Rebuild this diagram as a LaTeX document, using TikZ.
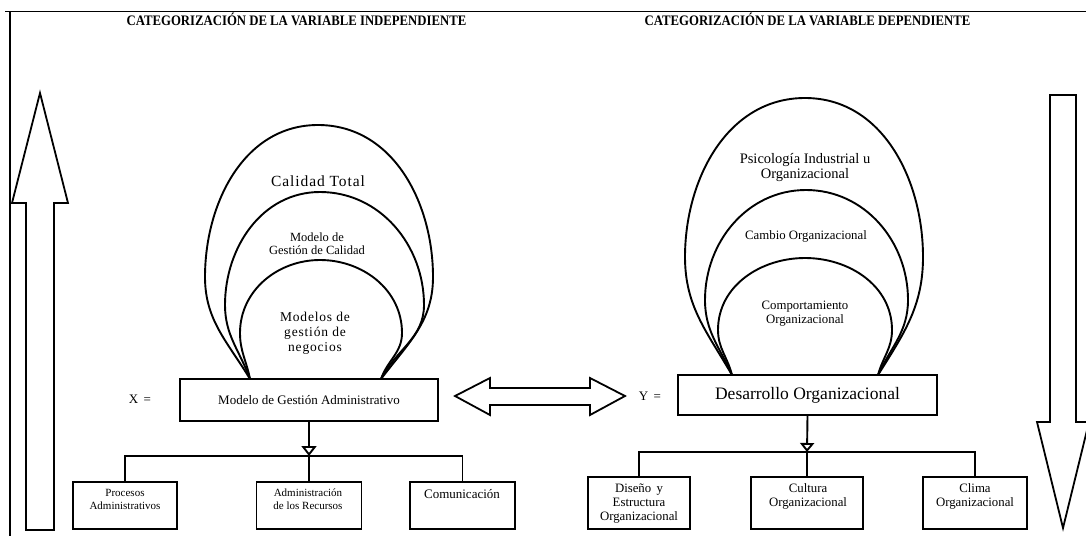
\documentclass[tikz,border=0pt]{standalone}
\usepackage{fontspec}
\setmainfont{Liberation Serif}
\newfontfamily\spacedfont[LetterSpace=6]{Liberation Serif}
\newfontfamily\titlefont[FakeStretch=0.88]{Liberation Serif}
\usetikzlibrary{arrows.meta,positioning}

\tikzset{
  frm/.style={line width=1.4pt},
  loopline/.style={line width=1.9pt},
  blockarrow/.style={line width=1.8pt, line join=miter},
  mainbox/.style={draw, line width=1.9pt, inner sep=0pt, align=center},
  leafbox/.style={draw, line width=1.9pt, inner sep=0pt},
  tree/.style={line width=1.9pt},
  titletxt/.style={font=\titlefont\fontsize{14.5}{16}\selectfont\bfseries, inner sep=0pt},
  txt/.style={align=center, inner sep=0pt},
}

\begin{document}
\begin{tikzpicture}[x=1pt,y=-1pt]
  \useasboundingbox (0,0) rectangle (1086,536);
  % marco
  \draw[frm] (5,11.5) -- (1086,11.5);
  \draw[frm] (10,11.5) -- (10,536);
  % titulos
  \node[titletxt] (titx) at (296.5,19) {CATEGORIZACIÓN DE LA VARIABLE INDEPENDIENTE};
  \node[titletxt] (tity) at (807.5,19) {CATEGORIZACIÓN DE LA VARIABLE DEPENDIENTE};

  % flechas laterales
  \draw[blockarrow] (26,530) -- (26,203) -- (12,203) -- (40,93) -- (68,203) -- (54,203) -- (54,530) -- cycle;
  \draw[blockarrow] (1050,95) -- (1076,95) -- (1076,422) -- (1089,422) -- (1063,528) -- (1037,422) -- (1050,422) -- cycle;

  % variable independiente
  \node[mainbox, minimum width=258, minimum height=42, font=\fontsize{13}{15}\selectfont] (mga) at (309,400) {Modelo de Gestión Administrativo};
  \node[txt, font=\fontsize{13}{15}\selectfont] (xeq) at (140,399) {X\, =};
  \coordinate (xl) at (250,379);
  \coordinate (xr) at (381,379);
  \draw[loopline] (xl) to[out=121,in=-90] (205,277) to[out=90,in=180] (318,125) to[out=0,in=90] (433,277) to[out=-90,in=53] (xr);
  \draw[loopline] (xl) to[out=110,in=-90] (225,305) to[out=90,in=180] (320,192) to[out=0,in=90] (424,305) to[out=-90,in=63] (xr);
  \draw[loopline] (xl) to[out=101,in=-90] (240,333) to[out=90,in=180] (320,260) to[out=0,in=90] (402,333) to[out=-90,in=71] (xr);
  \node[txt, font=\spacedfont\fontsize{15.5}{17}\selectfont] (ct) at (318,181) {Calidad Total};
  \node[txt, font=\fontsize{12.5}{13}\selectfont] (mgc) at (317,243.5) {Modelo de\\Gestión de Calidad};
  \node[txt, font=\spacedfont\fontsize{13.5}{15}\selectfont] (mgn) at (315,333) {Modelos de\\gestión de\\negocios};

  % dimensiones X
  \node[leafbox, minimum width=104, minimum height=47] (p1) at (125,505.5) {};
  \node[leafbox, minimum width=105, minimum height=47] (p2) at (309,505.5) {};
  \node[leafbox, minimum width=105, minimum height=47] (p3) at (462.5,505.5) {};
  \node[txt, font=\fontsize{11}{13}\selectfont] (p1t) at (125,499.5) {Procesos\\Administrativos};
  \node[txt, font=\fontsize{11}{13}\selectfont] (p2t) at (308,499.5) {Administración\\de los Recursos};
  \node[txt, font=\fontsize{13}{15}\selectfont] (p3t) at (462,494) {Comunicación};
  \coordinate (jx) at (309,456);
  \draw[tree, -{Triangle[open, length=10pt, width=15pt]}] (mga.south) -- (jx);
  \draw[tree] (p1.north) |- (jx) -| (p3.north);
  \draw[tree] (jx) -- (p2.north);

  % flecha doble
  \draw[blockarrow] (455,396) -- (490,378) -- (490,388) -- (590,388) -- (590,378) -- (625,396) -- (590,415) -- (590,405) -- (490,405) -- (490,415) -- cycle;

  % variable dependiente
  \node[mainbox, minimum width=259, minimum height=40, font=\fontsize{17.5}{19}\selectfont] (do) at (807.5,395) {Desarrollo Organizacional};
  \node[txt, font=\fontsize{13}{15}\selectfont] (yeq) at (650,396) {Y\, =};
  \coordinate (yl) at (732,375);
  \coordinate (yr) at (878,375);
  \draw[loopline] (yl) to[out=120,in=-90] (685,257) to[out=90,in=180] (805,98) to[out=0,in=90] (923,257) to[out=-90,in=58] (yr);
  \draw[loopline] (yl) to[out=114,in=-90] (705,300) to[out=90,in=180] (806,190) to[out=0,in=90] (908,300) to[out=-90,in=65] (yr);
  \draw[loopline] (yl) to[out=104,in=-90] (718,330) to[out=90,in=180] (805,258) to[out=0,in=90] (892,330) to[out=-90,in=75] (yr);
  \node[txt, font=\fontsize{14.5}{15.5}\selectfont] (psi) at (805,167.5) {Psicología Industrial u\\Organizacional};
  \node[txt, font=\fontsize{12.8}{14}\selectfont] (cam) at (806,236) {Cambio Organizacional};
  \node[txt, font=\fontsize{12.8}{13.5}\selectfont] (com) at (805,313.5) {Comportamiento\\Organizacional};

  % dimensiones Y
  \node[leafbox, minimum width=102, minimum height=52] (q1) at (639,503) {};
  \node[leafbox, minimum width=112, minimum height=52] (q2) at (807,503) {};
  \node[leafbox, minimum width=104, minimum height=52] (q3) at (975,503) {};
  \node[txt, font=\fontsize{12.8}{14}\selectfont] (q1t) at (639,504) {Diseño\, y\\Estructura\\Organizacional};
  \node[txt, font=\fontsize{12.8}{14}\selectfont] (q2t) at (808,496) {Cultura\\Organizacional};
  \node[txt, font=\fontsize{12.8}{14}\selectfont] (q3t) at (975,496) {Clima\\Organizacional};
  \coordinate (jy) at (807,452);
  \draw[tree, -{Triangle[open, length=9pt, width=14pt]}] (do.south) -- (jy);
  \draw[tree] (q1.north) |- (jy) -| (q3.north);
  \draw[tree] (jy) -- (q2.north);
\end{tikzpicture}
\end{document}
